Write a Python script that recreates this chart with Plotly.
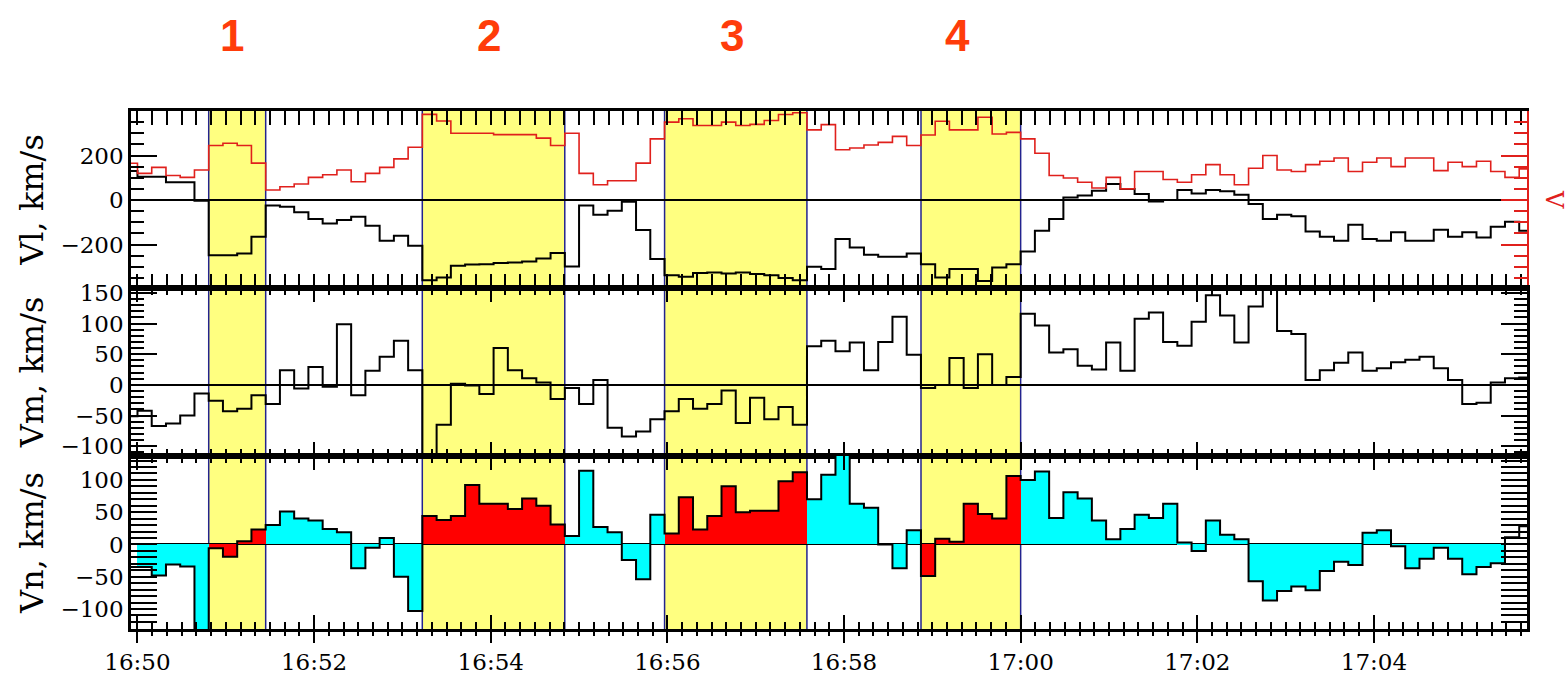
import pandas as pd
import plotly.graph_objects as go

# ---------------- data ----------------
T0 = "2000-01-01 16:50:00"          # time of bin index 0
BIN_SECONDS = 600.0 / 62.0           # sampling step (~9.7 s)
FIRST_BIN = -1                       # first (partial) bin index

# Vl (black, top panel), km/s
vl = [130,
      105, 105, 80, 80, -3,
      -248, -248, -240, -165,
      -25, -30, -55, -85, -105, -90, -75, -115, -183, -160, -205,
      -360, -348, -295, -290, -288, -283, -280, -276, -262, -238,
      -298, -25, -66, -48, -8, -135, -265,
      -338, -345, -328, -325, -330, -325, -332, -338, -350, -360,
      -300, -310, -175, -213, -246, -255, -255, -240,
      -288, -348, -310, -310, -363, -303, -288,
      -231, -138, -85, 12, 20, 42, 72, 50, 27, -6, 0, 45, 30, 45, 39, 24, -18, -85,
      -66, -73, -141, -165, -183, -111, -175, -183, -145, -183, -183, -133, -165,
      -145, -168, -120, -97, -138]

# |V| (red, top panel), km/s
v = [165,
     120, 147, 110, 102, 135,
     245, 255, 245, 166,
     45, 60, 72, 102, 114, 135, 82, 120, 147, 185, 237,
     385, 355, 300, 300, 300, 294, 294, 294, 278, 245,
     300, 120, 69, 87, 87, 166, 275,
     350, 365, 335, 335, 350, 335, 340, 357, 384, 392,
     315, 339, 226, 234, 247, 259, 286, 245,
     292, 354, 315, 315, 372, 297, 304,
     275, 210, 110, 99, 80, 54, 102, 50, 128, 128, 92, 80, 114, 159, 114, 69, 143, 200,
     135, 128, 159, 174, 189, 128, 170, 189, 150, 189, 189, 132, 170, 150, 174,
     128, 102, 140]

# Vm (middle panel), km/s
vm = [-51,
      -42, -67, -63, -50, -14,
      -26, -43, -39, -17,
      -31, 24, -6, 29, -3, 99, -17, 23, 46, 72, 24,
      -140, -65, 2, -1, -15, 60, 24, 11, 4, -23,
      -5, -31, 8, -70, -84, -76, -56,
      -43, -23, -39, -31, -9, -62, -21, -56, -36, -65,
      63, 72, 55, 69, 24, 70, 111, 49,
      -5, 0, 44, -5, 50, 0, 13,
      116, 97, 53, 58, 31, 25, 69, 23, 108, 118, 70, 64, 103, 146, 113, 69, 128, 170,
      88, 83, 8, 24, 36, 53, 23, 27, 37, 41, 46, 27, 8, -31, -29,
      4, 11, 12]

# Vn (bottom panel), km/s
vn = [-35,
      -35, -48, -31, -34, -140,
      -6, -19, 5, 23,
      30, 51, 40, 37, 24, 19, -37, -5, 10, -50, -103,
      44, 38, 44, 92, 63, 63, 55, 71, 60, 31,
      13, 114, 27, 19, -24, -54, 46,
      17, 73, 23, 44, 90, 50, 52, 52, 98, 112,
      70, 108, 140, 63, 57, 0, -37, 22,
      -49, 9, 4, 63, 47, 40, 106,
      100, 113, 41, 81, 71, 37, 8, 24, 46, 41, 63, 3, -10, 37, 15, 8, -57, -87,
      -72, -65, -71, -41, -27, -32, 18, 22, -3, -37, -22, -5, -22, -46, -35,
      -29, 11, 28]

# marked intervals (yellow bands), numbered 1..4
interval_start = ["2000-01-01 16:50:48.4", "2000-01-01 16:53:13.5",
                  "2000-01-01 16:55:58.1", "2000-01-01 16:58:52.3"]
interval_end = ["2000-01-01 16:51:27.1", "2000-01-01 16:54:50.3",
                "2000-01-01 16:57:34.8", "2000-01-01 17:00:00.0"]
interval_labels = ["1", "2", "3", "4"]
label_times = ["2000-01-01 16:51:04", "2000-01-01 16:53:59",
               "2000-01-01 16:56:44", "2000-01-01 16:59:17"]

# Vn shading is drawn only within this time span
fill_start = "2000-01-01 16:50:00"
fill_end = "2000-01-01 17:05:29"

x_range = ["2000-01-01 16:49:55.6", "2000-01-01 17:05:44"]
vl_range = [-395, 400]
vl_ticks = [-200, 0, 200]
vm_range = [-116, 158]
vn_range = [-131, 137]

# ---------------- derived coordinates ----------------
t0 = pd.Timestamp(T0)
step = pd.Timedelta(seconds=BIN_SECONDS)
n = len(vl)
starts = [t0 + (FIRST_BIN + i) * step for i in range(n)]
edges = starts + [starts[-1] + step]
centers = [s + step / 2 for s in starts]

ints = [(pd.Timestamp(a), pd.Timestamp(b)) for a, b in zip(interval_start, interval_end)]
fs, fe = pd.Timestamp(fill_start), pd.Timestamp(fill_end)

bar_colors = []
for c in centers:
    if c < fs or c > fe:
        bar_colors.append("rgba(0,0,0,0)")
    elif any(a <= c <= b for a, b in ints):
        bar_colors.append("#ff0000")
    else:
        bar_colors.append("#00ffff")


def stepped(vals):
    return edges, list(vals) + [vals[-1]]


RED = "#e0201c"
fig = go.Figure()

fig.add_trace(go.Bar(x=centers, y=vn, width=BIN_SECONDS * 1000.0,
                     marker=dict(color=bar_colors, line=dict(width=0)),
                     xaxis="x3", yaxis="y3", showlegend=False, hoverinfo="skip"))

ex, ey = stepped(vn)
fig.add_trace(go.Scatter(x=ex, y=ey, mode="lines", line=dict(shape="hv", color="black", width=2),
                         xaxis="x3", yaxis="y3", showlegend=False))
ex, ey = stepped(vm)
fig.add_trace(go.Scatter(x=ex, y=ey, mode="lines", line=dict(shape="hv", color="black", width=2),
                         xaxis="x2", yaxis="y2", showlegend=False))
ex, ey = stepped(vl)
fig.add_trace(go.Scatter(x=ex, y=ey, mode="lines", line=dict(shape="hv", color="black", width=2),
                         xaxis="x", yaxis="y", showlegend=False))
ex, ey = stepped(v)
fig.add_trace(go.Scatter(x=ex, y=ey, mode="lines", line=dict(shape="hv", color=RED, width=1.6),
                         xaxis="x", yaxis="y4", showlegend=False))
# carrier for the outward tick marks of the bottom time axis
fig.add_trace(go.Scatter(x=[edges[1]], y=[None], mode="lines", xaxis="x4", yaxis="y3",
                         showlegend=False, hoverinfo="skip"))

# ---------------- layout ----------------
TOP, B1, B2, BOT = 111, 288, 456, 629
H = BOT - TOP
d1 = (BOT - B1) / H
d2 = (BOT - B2) / H

tickfont = dict(family="DejaVu Serif", size=23, color="black")
titlefont = dict(family="DejaVu Serif", size=32, color="black")

xcommon = dict(type="date", range=x_range, tick0=T0, dtick=120000, automargin=False,
               ticks="inside", ticklen=14, tickwidth=2, tickcolor="black",
               minor=dict(dtick=10000, tick0=T0, ticks="inside", ticklen=7,
                          tickwidth=1.5, tickcolor="black"),
               showline=True, linecolor="black", linewidth=2.5, mirror="allticks",
               showgrid=False, zeroline=False, tickformat="%H:%M")

ycommon = dict(ticks="inside", tickwidth=2, tickcolor="black", automargin=False,
               showline=True, linecolor="black", linewidth=2.5,
               showgrid=False, zeroline=True, zerolinecolor="black", zerolinewidth=1.5,
               tickfont=tickfont, title_font=titlefont, title_standoff=8)

fig.update_layout(
    width=1568, height=682,
    margin=dict(l=131, r=41, t=TOP, b=682 - BOT, autoexpand=False),
    paper_bgcolor="white", plot_bgcolor="white",
    bargap=0, barmode="overlay",
    xaxis=dict(xcommon, anchor="y", matches="x3", showticklabels=False),
    xaxis2=dict(xcommon, anchor="y2", matches="x3", showticklabels=False),
    xaxis3=dict(xcommon, anchor="y3", tickfont=tickfont, ticklabelstandoff=11),
    xaxis4=dict(type="date", overlaying="x3", anchor="y3", range=x_range, tick0=T0, dtick=120000,
                automargin=False, ticks="outside", ticklen=13, tickwidth=2, tickcolor="black",
                minor=dict(dtick=10000, tick0=T0, ticks="outside", ticklen=6,
                           tickwidth=1.5, tickcolor="black"),
                showline=False, showticklabels=False, showgrid=False, zeroline=False),
    yaxis=dict(ycommon, domain=[d1, 1], anchor="x", range=vl_range, tickvals=vl_ticks,
               ticklen=26, mirror=False,
               minor=dict(dtick=50, tick0=0, ticks="inside", ticklen=13, tickwidth=2, tickcolor="black"),
               title_text="Vl, km/s"),
    yaxis4=dict(overlaying="y", side="right", anchor="x", range=vl_range, tickvals=vl_ticks,
                automargin=False, ticks="inside", ticklen=26, tickwidth=2, tickcolor=RED,
                minor=dict(dtick=50, tick0=0, ticks="inside", ticklen=13, tickwidth=2, tickcolor=RED),
                showline=True, linecolor=RED, linewidth=2, showticklabels=False,
                showgrid=False, zeroline=False),
    yaxis2=dict(ycommon, domain=[d2, d1], anchor="x2", range=vm_range, dtick=50, tick0=0,
                ticklen=26, mirror="allticks",
                minor=dict(dtick=10, tick0=0, ticks="inside", ticklen=13, tickwidth=2, tickcolor="black"),
                title_text="Vm, km/s"),
    yaxis3=dict(ycommon, domain=[0, d2], anchor="x3", range=vn_range, dtick=50, tick0=0,
                ticklen=26, mirror="allticks",
                minor=dict(dtick=10, tick0=0, ticks="inside", ticklen=13, tickwidth=2, tickcolor="black"),
                title_text="Vn, km/s"),
)

shapes = []
for a, b in ints:
    shapes.append(dict(type="rect", xref="x", yref="paper", x0=a, x1=b, y0=0, y1=1,
                       fillcolor="#ffff80", line=dict(width=0), layer="below"))
for a, b in ints:
    for t in (a, b):
        shapes.append(dict(type="line", xref="x", yref="paper", x0=t, x1=t, y0=0, y1=1,
                           line=dict(color="#23238e", width=1.5), layer="below"))
fig.update_layout(shapes=shapes)

ann = []
for lab, t in zip(interval_labels, label_times):
    ann.append(dict(x=pd.Timestamp(t), xref="x", y=(BOT - 35) / H, yref="paper",
                    yanchor="middle", xanchor="center",
                    text="<b>%s</b>" % lab, showarrow=False,
                    font=dict(family="Liberation Sans", size=44, color="#ff3c0a")))
ann.append(dict(x=1 + (1554 - 1527) / 1396, xref="paper", y=(BOT - 200) / H, yref="paper",
                xanchor="center", yanchor="middle",
                text="V", textangle=90, showarrow=False,
                font=dict(family="DejaVu Serif", size=24, color=RED)))
fig.update_layout(annotations=ann)

fig.write_html("out.html")
